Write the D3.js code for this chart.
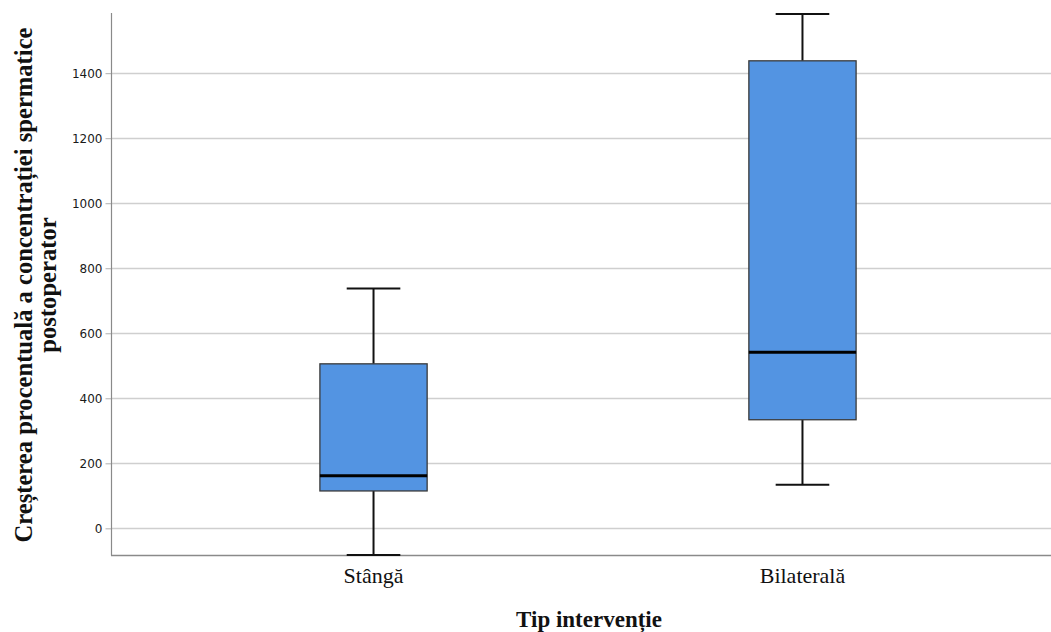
<!DOCTYPE html>
<html>
<head>
<meta charset="utf-8">
<script src="https://cdn.jsdelivr.net/npm/d3@7"></script>
<style>
  html, body { margin: 0; padding: 0; background: #fff; }
  svg { display: block; }
</style>
</head>
<body>
<svg id="chart" width="1051" height="632"></svg>
<script>
// Box-plot summaries per intervention type
const categories = ["Stângă", "Bilaterală"];
const whiskerLow  = [-82, 134];
const quartile1   = [115, 334];
const medians     = [162, 542];
const quartile3   = [506, 1438];
const whiskerHigh = [738, 1582];
const yTicks = [0, 200, 400, 600, 800, 1000, 1200, 1400];
const yTitleLines = ["Creșterea procentuală a concentrației spermatice", "postoperator"];
const xTitle = "Tip intervenție";

const boxes = categories.map((c, i) => ({
  cat: c, lo: whiskerLow[i], q1: quartile1[i], med: medians[i], q3: quartile3[i], hi: whiskerHigh[i]
}));

const svg = d3.select("#chart");
const plotLeft = 111, plotRight = 1065, plotTop = 14, plotBottom = 555;

const y = d3.scaleLinear()
  .domain([d3.min(whiskerLow), d3.max(whiskerHigh)])
  .range([plotBottom, plotTop]);

const x = d3.scalePoint()
  .domain(categories)
  .range([plotLeft, plotRight])
  .padding(0.612);

const step = x.step();
const boxW = step * 0.25;
const capW = boxW / 2;

// Horizontal gridlines
svg.append("g")
  .selectAll("line")
  .data(yTicks)
  .join("line")
  .attr("x1", plotLeft).attr("x2", 1051)
  .attr("y1", d => Math.round(y(d)) + 0.5)
  .attr("y2", d => Math.round(y(d)) + 0.5)
  .attr("stroke", "#cfcfcf")
  .attr("stroke-width", 1.5);

// Y axis with short outer ticks
const yAxis = svg.append("g")
  .attr("transform", `translate(${plotLeft + 0.5},0)`)
  .call(d3.axisLeft(y).tickValues(yTicks).tickSize(6).tickPadding(3).tickFormat(d3.format("d")));
yAxis.select(".domain").remove();
yAxis.selectAll(".tick line").attr("stroke", "#b0b0b0");
yAxis.selectAll(".tick text")
  .attr("fill", "#1a1a1a")
  .style("font-family", "'DejaVu Sans', sans-serif")
  .style("font-size", "12px");

// Axis frame lines
svg.append("line")
  .attr("x1", plotLeft + 0.5).attr("x2", plotLeft + 0.5)
  .attr("y1", plotTop - 1).attr("y2", plotBottom + 0.5)
  .attr("stroke", "#8a8a8a").attr("stroke-width", 1.2);
svg.append("line")
  .attr("x1", plotLeft).attr("x2", 1051)
  .attr("y1", plotBottom + 0.5).attr("y2", plotBottom + 0.5)
  .attr("stroke", "#8a8a8a").attr("stroke-width", 1.5);

// Boxes, whiskers, caps, medians
const g = svg.append("g").selectAll("g").data(boxes).join("g");

g.append("line") // upper whisker
  .attr("x1", d => x(d.cat)).attr("x2", d => x(d.cat))
  .attr("y1", d => y(d.q3)).attr("y2", d => y(d.hi))
  .attr("stroke", "#111").attr("stroke-width", 2);
g.append("line") // lower whisker
  .attr("x1", d => x(d.cat)).attr("x2", d => x(d.cat))
  .attr("y1", d => y(d.q1)).attr("y2", d => y(d.lo))
  .attr("stroke", "#111").attr("stroke-width", 2);
g.append("line") // upper cap
  .attr("x1", d => x(d.cat) - capW / 2).attr("x2", d => x(d.cat) + capW / 2)
  .attr("y1", d => y(d.hi)).attr("y2", d => y(d.hi))
  .attr("stroke", "#111").attr("stroke-width", 2);
g.append("line") // lower cap
  .attr("x1", d => x(d.cat) - capW / 2).attr("x2", d => x(d.cat) + capW / 2)
  .attr("y1", d => y(d.lo)).attr("y2", d => y(d.lo))
  .attr("stroke", "#111").attr("stroke-width", 2);
g.append("rect")
  .attr("x", d => x(d.cat) - boxW / 2)
  .attr("width", boxW)
  .attr("y", d => y(d.q3))
  .attr("height", d => y(d.q1) - y(d.q3))
  .attr("fill", "#5394e2")
  .attr("stroke", "#3a3a3a")
  .attr("stroke-width", 1.3);
g.append("line") // median
  .attr("x1", d => x(d.cat) - boxW / 2).attr("x2", d => x(d.cat) + boxW / 2)
  .attr("y1", d => y(d.med)).attr("y2", d => y(d.med))
  .attr("stroke", "#000").attr("stroke-width", 3);

// Category labels
svg.append("g").selectAll("text")
  .data(categories)
  .join("text")
  .attr("x", d => x(d))
  .attr("y", 583)
  .attr("text-anchor", "middle")
  .style("font-family", "'Liberation Serif', 'Times New Roman', serif")
  .style("font-size", "22px")
  .attr("fill", "#111")
  .text(d => d);

// X axis title
svg.append("text")
  .attr("x", 589)
  .attr("y", 627)
  .attr("text-anchor", "middle")
  .style("font-family", "'Liberation Serif', 'Times New Roman', serif")
  .style("font-size", "23px")
  .style("font-weight", "bold")
  .attr("fill", "#111")
  .text(xTitle);

// Y axis title (two lines, rotated)
const yt = svg.append("text")
  .attr("transform", "translate(0,285) rotate(-90)")
  .attr("text-anchor", "middle")
  .style("font-family", "'Liberation Serif', 'Times New Roman', serif")
  .style("font-size", "24.6px")
  .style("font-weight", "bold")
  .attr("fill", "#111");
yt.selectAll("tspan")
  .data(yTitleLines)
  .join("tspan")
  .attr("x", 0)
  .attr("y", (d, i) => 32 + i * 24)
  .text(d => d);
</script>
</body>
</html>
